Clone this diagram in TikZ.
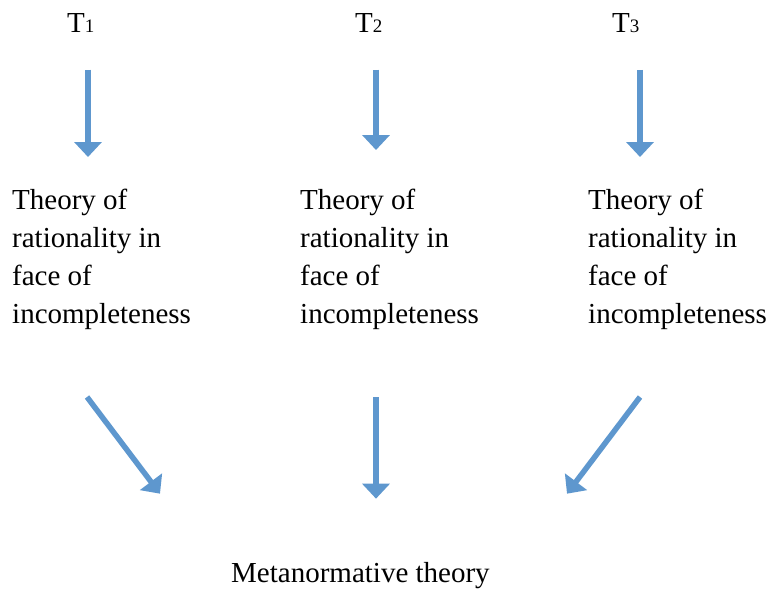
\documentclass[tikz,border=0pt]{standalone}
\usepackage{fontspec}
\setmainfont{Liberation Serif}
\newfontfamily\diagfont{Liberation Serif}
\usepackage{tikz}
\usetikzlibrary{arrows.meta}
\usetikzlibrary{positioning}
\definecolor{arrowblue}{RGB}{94,151,206}
\newcommand{\Tsub}[1]{T\raisebox{-0.5pt}{\fontsize{19}{19}\selectfont #1}}
\tikzstyle{flow}=[draw=arrowblue,line width=5.5pt,-{Triangle[width=27pt,length=15pt]},arrowblue]
\tikzstyle{Tlab}=[inner sep=0,anchor=base west,font=\diagfont\fontsize{29}{38}\selectfont]
\tikzstyle{Atheory}=[inner sep=0,anchor=north west,align=left,font=\diagfont\fontsize{29}{38}\selectfont]

\begin{document}
\begin{tikzpicture}[x=1pt,y=-1pt]
\path[use as bounding box] (0,0) rectangle (767,590);

\node[Tlab] (t1) at (67,32) {\Tsub{1}};
\node[Tlab] (t2) at (355,32) {\Tsub{2}};
\node[Tlab] (t3) at (612,32) {\Tsub{3}};

\node[Atheory] (th1) at (12,189) {Theory of\\rationality in\\face of\\incompleteness};
\node[Atheory] (th2) at (300,189) {Theory of\\rationality in\\face of\\incompleteness};
\node[Atheory] (th3) at (588,189) {Theory of\\rationality in\\face of\\incompleteness};

\node[Tlab] (meta) at (231,582) {Metanormative theory};

\draw[flow] ([shift={(21,37)}]t1.south west) -- ([shift={(76,-32)}]th1.north west);
\draw[flow] ([shift={(21,37)}]t2.south west) -- ([shift={(76,-39)}]th2.north west);
\draw[flow] ([shift={(28,37)}]t3.south west) -- ([shift={(52,-32)}]th3.north west);

\draw[flow] ([shift={(75,67)}]th1.south west) -- ([shift={(-71,-68)}]meta.north west);
\draw[flow] ([shift={(76,67)}]th2.south west) -- ([shift={(145,-63)}]meta.north west);
\draw[flow] ([shift={(52,67)}]th3.south west) -- ([shift={(336,-68)}]meta.north west);
\end{tikzpicture}
\end{document}
